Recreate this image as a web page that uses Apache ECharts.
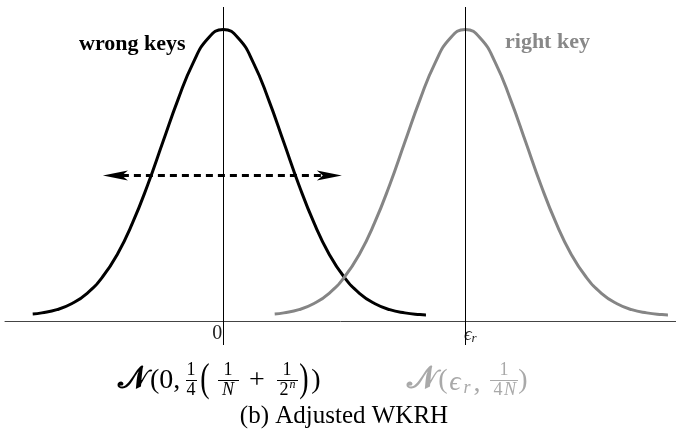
<!DOCTYPE html>
<html>
<head>
<meta charset="utf-8">
<script src="https://cdn.jsdelivr.net/npm/echarts@6/dist/echarts.min.js"></script>
<style>
  html, body { margin: 0; padding: 0; background: #fff; }
  #chart { width: 676px; height: 437px; }
</style>
</head>
<body>
<div id="chart"></div>
<script>
// Sample positions (in units of sigma) relative to each distribution's mean
const offsets = [-3.15, -3, -2.75, -2.5, -2.25, -2, -1.75, -1.5, -1.25, -1, -0.75, -0.5, -0.25, 0,
                 0.25, 0.5, 0.75, 1, 1.25, 1.5, 1.75, 2, 2.25, 2.5, 2.75, 3, 3.25, 3.35];
// Density heights (peak = 1)
const wrongKeys = [0.026, 0.030, 0.041, 0.062, 0.097, 0.152, 0.231, 0.338, 0.468, 0.614, 0.759, 0.885, 0.970, 1.000,
                   0.970, 0.885, 0.759, 0.614, 0.468, 0.338, 0.231, 0.152, 0.097, 0.062, 0.041, 0.030, 0.024, 0.023];
const rightKey  = [0.026, 0.030, 0.041, 0.062, 0.097, 0.152, 0.231, 0.338, 0.468, 0.614, 0.759, 0.885, 0.970, 1.000,
                   0.970, 0.885, 0.759, 0.614, 0.468, 0.338, 0.231, 0.152, 0.097, 0.062, 0.041, 0.030, 0.024, 0.023];
const means = [0, 4];                 // 0 and epsilon_r
const tickValues = [0, 4];
const tickLabels = ['{z|0}', '{e|ϵ}{r|r}'];
const spread = [-1.99, 1.96];         // dashed double arrow extent
const spreadLevel = 0.5;

const SERIF = "'Liberation Serif', 'DejaVu Serif', serif";
const BLACK = '#000';
const GREY = '#858585';
const LIGHT = '#a9a9a9';

const toPairs = (mean, vals) => offsets.map((d, i) => [mean + d, vals[i]]);

// helpers for the typeset formulas under the axis
function txt(x, y, s, size, color, extra) {
  return Object.assign({
    type: 'text', x: x, y: y,
    style: {
      text: s, fill: color, fontFamily: SERIF, fontSize: size,
      align: 'center', verticalAlign: 'middle',
      textAlign: 'center', textVerticalAlign: 'middle'
    }
  }, extra || {});
}
function bar(x1, x2, y, color) {
  return { type: 'line', shape: { x1: x1, y1: y, x2: x2, y2: y }, style: { stroke: color, lineWidth: 1 } };
}
function italic(el) { el.style.fontStyle = 'italic'; return el; }
function bold(el) { el.style.fontWeight = 'bold'; return el; }

const F = 28, S = 18;
const formulaA = [
  bold(txt(133, 380, '𝒩', F + 3, BLACK)),
  txt(150, 381, '(0,', F, BLACK, {}),
  txt(191, 370, '1', S, BLACK), bar(186, 197, 380.5, BLACK), txt(191, 390, '4', S, BLACK),
  txt(205, 380, '(', F, BLACK, { scaleY: 1.45 }),
  txt(228, 370, '1', S, BLACK), bar(218, 239, 380.5, BLACK), italic(txt(228, 390, 'N', S, BLACK)),
  txt(257, 381, '+', F, BLACK),
  txt(287, 370, '1', S, BLACK), bar(277, 298, 380.5, BLACK), txt(284, 390, '2', S, BLACK),
  italic(txt(292.5, 385, 'n', 12, BLACK)),
  txt(304, 380, ')', F, BLACK, { scaleY: 1.45 }),
  txt(316, 381, ')', F, BLACK)
];
formulaA[1].style.align = 'left'; formulaA[1].style.textAlign = 'left';

const formulaB = [
  bold(txt(422, 380, '𝒩', F + 3, LIGHT)),
  txt(443, 381, '(', F, LIGHT),
  italic(txt(455, 383, 'ϵ', F, LIGHT)),
  italic(txt(467, 388, 'r', S, LIGHT)),
  txt(477, 384, ',', F, LIGHT),
  txt(504, 370, '1', S, LIGHT), bar(490, 518, 380.5, LIGHT), txt(498, 390, '4', S, LIGHT),
  italic(txt(510, 390, 'N', S, LIGHT)),
  txt(523, 381, ')', F, LIGHT)
];

const chart = echarts.init(document.getElementById('chart'), null, { renderer: 'canvas' });
chart.setOption({
  animation: false,
  backgroundColor: '#fff',
  grid: { left: 5, right: 0, top: 7, bottom: 92, containLabel: false, outerBoundsMode: 'none' },
  xAxis: {
    type: 'value', min: -3.608, max: 7.483,
    axisLine: { show: true, onZero: true, lineStyle: { color: '#444', width: 1 } },
    axisTick: { show: false },
    splitLine: { show: false },
    axisLabel: {
      show: true, margin: -21, customValues: tickValues,
      formatter: (v) => tickLabels[tickValues.indexOf(v)] || '',
      rich: {
        z: { fontFamily: SERIF, fontSize: 20, color: '#222', padding: [0, 12, 0, 0] },
        e: { fontFamily: SERIF, fontSize: 19, fontStyle: 'italic', color: '#222', padding: [0, 0, 0, 10], lineHeight: 21 },
        r: { fontFamily: SERIF, fontSize: 13, fontStyle: 'italic', color: '#222', verticalAlign: 'bottom', lineHeight: 13 }
      }
    }
  },
  yAxis: { type: 'value', min: -0.08, max: 1.077, show: false },
  series: [
    {
      name: 'wrong keys', type: 'line', data: toPairs(means[0], wrongKeys),
      smooth: true, showSymbol: false, silent: true,
      lineStyle: { color: BLACK, width: 3, cap: 'butt' },
      markLine: {
        silent: true, symbol: 'none', label: { show: false },
        lineStyle: { color: '#000', width: 1, type: 'solid' },
        data: means.map(m => ({ xAxis: m }))
      }
    },
    {
      name: 'right key', type: 'line', data: toPairs(means[1], rightKey),
      smooth: true, showSymbol: false, silent: true,
      lineStyle: { color: GREY, width: 3, cap: 'butt' }
    },
    {
      name: 'spread', type: 'custom', silent: true,
      data: [[spread[0], spread[1], spreadLevel]],
      encode: { x: [0, 1], y: 2 },
      renderItem: (params, api) => {
        const y = api.value(2);
        const a = api.coord([api.value(0), y]);
        const b = api.coord([api.value(1), y]);
        const L = 25, W = 5, N = 19;
        return {
          type: 'group',
          children: [
            { type: 'line', shape: { x1: a[0] + N, y1: a[1], x2: b[0] - N, y2: b[1] },
              style: { stroke: BLACK, lineWidth: 3, lineDash: [7, 5] } },
            { type: 'polygon', shape: { points: [[a[0], a[1]], [a[0] + L, a[1] - W], [a[0] + N, a[1]], [a[0] + L, a[1] + W]] },
              style: { fill: BLACK } },
            { type: 'polygon', shape: { points: [[b[0], b[1]], [b[0] - L, b[1] - W], [b[0] - N, b[1]], [b[0] - L, b[1] + W]] },
              style: { fill: BLACK } }
          ]
        };
      }
    }
  ],
  graphic: [
    { type: 'text', left: 79, top: 33,
      style: { text: 'wrong keys', fill: BLACK, fontFamily: SERIF, fontSize: 22, fontWeight: 'bold' } },
    { type: 'text', left: 505, top: 31,
      style: { text: 'right key', fill: '#888', fontFamily: SERIF, fontSize: 22, fontWeight: 'bold' } },
    ...formulaA,
    ...formulaB,
    txt(344, 416, '(b) Adjusted WKRH', 25, BLACK)
  ]
});
</script>
</body>
</html>
